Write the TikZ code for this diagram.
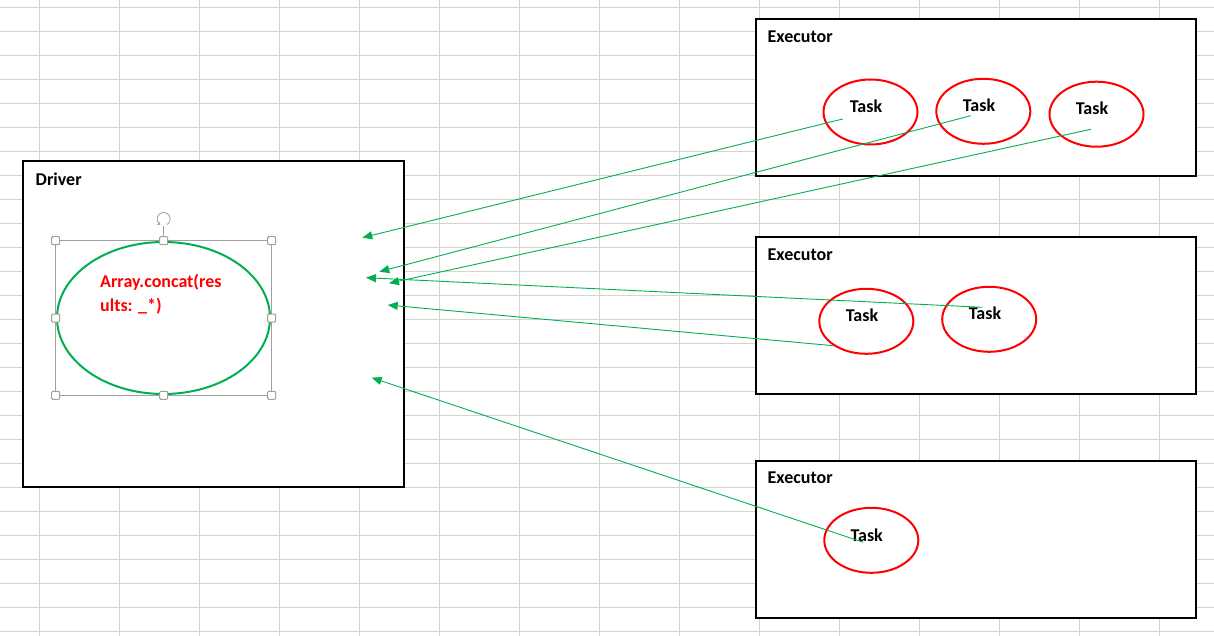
\documentclass[tikz,border=0pt]{standalone}
\usepackage{fontspec}
\setmainfont{Carlito}
\usetikzlibrary{arrows.meta,shapes.geometric}
\definecolor{xlgreen}{HTML}{00B050}
\definecolor{gridgray}{HTML}{D4D4D4}
\definecolor{handlegray}{HTML}{A0A0A0}
\begin{document}
\begin{tikzpicture}[x=1pt,y=-1pt,
  gridline/.style={draw=gridgray, line width=1pt},
  panel/.style={draw=black, line width=2pt, fill=white, anchor=north west, inner sep=0pt, outer sep=0pt},
  boxtitle/.style={anchor=west, font=\fontsize{18}{21}\selectfont\bfseries, inner sep=0pt},
  taskell/.style={draw=red, line width=2pt, ellipse, minimum width=94pt, minimum height=65pt, inner sep=0pt},
  tasktext/.style={font=\fontsize{18}{21}\selectfont\bfseries, inner sep=0pt},
  aggell/.style={draw=xlgreen, line width=2pt, ellipse, minimum width=213pt, minimum height=152pt, inner sep=0pt},
  aggtext/.style={anchor=base west, align=left, text=red, font=\fontsize{18}{24}\selectfont\bfseries, inner sep=0pt},
  selframe/.style={draw=handlegray, line width=1pt},
  handle/.style={draw=handlegray, fill=white, line width=1pt, rounded corners=1pt, minimum size=8pt, inner sep=0pt},
  flow/.style={draw=xlgreen, line width=0.9pt, -{Triangle[length=10pt,width=8pt]}}
]
\useasboundingbox (0,0) rectangle (1214,636);
\fill[white] (0,0) rectangle (1214,636);
% spreadsheet grid
\foreach \gx in {39.5,119.5,...,1159.5} \draw[gridline] (\gx,0) -- (\gx,636);
\foreach \gy in {7.5,31.5,...,631.5} \draw[gridline] (0,\gy) -- (1214,\gy);

% panels
\node[panel, minimum width=381pt, minimum height=325.5pt] (driver) at (23,161.5) {};
\node[panel, minimum width=440pt, minimum height=157pt] (exec1) at (755.5,19.5) {};
\node[panel, minimum width=440pt, minimum height=157pt] (exec2) at (755.5,237) {};
\node[panel, minimum width=440pt, minimum height=157pt] (exec3) at (755.5,460.5) {};

\node[boxtitle] (driverlabel) at (35.5,179) {Driver};
\node[boxtitle] (exec1label) at (767.5,36.7) {Executor};
\node[boxtitle] (exec2label) at (767.5,255) {Executor};
\node[boxtitle] (exec3label) at (767.5,477.7) {Executor};

% tasks
\node[taskell] (t11) at (870.5,112) {};
\node[taskell] (t12) at (983.3,111.3) {};
\node[taskell] (t13) at (1096.5,114.2) {};
\node[taskell] (t21) at (866.3,321.3) {};
\node[taskell] (t22) at (989.2,319.3) {};
\node[taskell] (t31) at (871.3,540.3) {};
\node[tasktext] (t11text) at (866,106.7) {Task};
\node[tasktext] (t12text) at (979,105.7) {Task};
\node[tasktext] (t13text) at (1092,108.3) {Task};
\node[tasktext] (t21text) at (862,315.7) {Task};
\node[tasktext] (t22text) at (985,313.3) {Task};
\node[tasktext] (t31text) at (866.7,535) {Task};

% driver aggregation shape with selection handles
\node[aggell] (agg) at (163.5,318) {};
\draw[selframe] (55.7,240.7) rectangle (271.7,395.3);
\draw[selframe] (163.7,240.7) -- (163.7,226);
\draw[handlegray, line width=0.8pt, -{Stealth[length=3pt,width=4pt]}] (163.7,219) ++(60:6.5) arc[start angle=60, end angle=-240, radius=6.5];
\foreach \hx/\hy [count=\i] in {55.7/240.7,163.7/240.7,271.7/240.7,55.7/318,271.7/318,55.7/395.3,163.7/395.3,271.7/395.3}
  \node[handle] (h\i) at (\hx,\hy) {};
\node[aggtext] (aggtext) at (100,311) {Array.concat(res\\ults: \_*)};

% arrow endpoints
\coordinate (s11) at (842.7,119);
\coordinate (s12) at (970.7,115.7);
\coordinate (s13) at (1090.7,129.3);
\coordinate (s21) at (833.3,345.7);
\coordinate (s22) at (982.3,307.3);
\coordinate (s31) at (863.3,542.3);
\coordinate (r1) at (362.3,237.7);
\coordinate (r2) at (379.3,271.7);
\coordinate (r3) at (366,277.7);
\coordinate (r4) at (389,283.3);
\coordinate (r5) at (387.7,305);
\coordinate (r6) at (371.7,377.7);

\draw[flow] (s11) -- (r1);
\draw[flow] (s12) -- (r2);
\draw[flow] (s13) -- (r4);
\draw[flow] (s22) -- (r3);
\draw[flow] (s21) -- (r5);
\draw[flow] (s31) -- (r6);
\end{tikzpicture}
\end{document}
